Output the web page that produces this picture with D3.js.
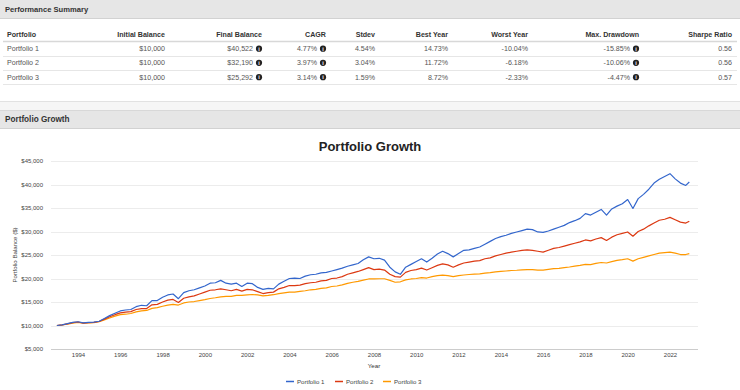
<!DOCTYPE html>
<html><head><meta charset="utf-8">
<script src="https://cdn.jsdelivr.net/npm/d3@7"></script>
<style>
body{margin:0;background:#fff;}
svg{display:block;font-family:"Liberation Sans",Arial,Helvetica,sans-serif;}
</style>
</head><body>
<svg id="c" width="740" height="390"></svg>
<script>
// ---------- DATA ----------
const portfolios = ["Portfolio 1", "Portfolio 2", "Portfolio 3"];
const tableHeaders = ["Portfolio", "Initial Balance", "Final Balance", "CAGR", "Stdev", "Best Year", "Worst Year", "Max. Drawdown", "Sharpe Ratio"];
const initialBalance = [10000, 10000, 10000];
const finalBalance = [40522, 32190, 25292];
const cagr = [4.77, 3.97, 3.14];
const stdev = [4.54, 3.04, 1.59];
const bestYear = [14.73, 11.72, 8.72];
const worstYear = [-10.04, -6.18, -2.33];
const maxDrawdown = [-15.85, -10.06, -4.47];
const sharpe = [0.56, 0.56, 0.57];

const yTicks = [5000, 10000, 15000, 20000, 25000, 30000, 35000, 40000, 45000];
const xTickYears = [1994, 1996, 1998, 2000, 2002, 2004, 2006, 2008, 2010, 2012, 2014, 2016, 2018, 2020, 2022];

// quarterly balances, Jan 1993 ... Oct 2022, then Dec 2022
const p1 = [
 10000,10150,10400,10650, 10800,10550,10650,10700, 10900,11500,12100,12600, 13100,13300,13400,14000,
 14300,14200,15300,15300, 16000,16500,16700,15700, 17000,17400,17600,18000, 18400,19000,19100,19600,
 19000,18800,19000,18300, 19000,18900,18100,17700, 17900,17800,18800,19400, 20000,20100,20000,20500,
 20800,20900,21200,21300, 21600,21900,22200,22600, 22900,23200,24000,24600, 24200,24300,23900,22400,
 21400,20900,22400,23000, 23600,24200,23500,24300, 25200,25800,25300,24600, 25300,26000,26100,26400,
 26700,27300,27900,28500, 28900,29200,29600,29900, 30200,30500,30400,29900, 29800,30100,30500,30900,
 31300,31900,32300,32800, 33800,33500,34100,34700, 33500,34800,35400,35900, 36800,34900,37000,37900,
 39000,40300,41100,41700, 42300,41200,40300,39800, 40522];
const p2 = [
 10000,10150,10350,10600, 10750,10500,10600,10650, 10850,11350,11850,12300, 12700,12850,12950,13400,
 13600,13600,14400,14500, 15000,15400,15550,14900, 15800,16100,16300,16700, 17100,17500,17600,17800,
 17600,17400,17700,17300, 17700,17600,17200,16800, 17000,17100,17800,18100, 18500,18500,18600,18900,
 19100,19200,19500,19600, 20000,20100,20400,20900, 21200,21500,21900,22300, 21900,22000,21800,20900,
 20400,20300,21300,21700, 21900,22200,21800,22300, 22800,23100,22900,22400, 22900,23300,23500,23700,
 23800,24200,24400,24800, 25100,25400,25600,25800, 26000,26100,26000,25800, 25600,26000,26400,26600,
 26900,27200,27500,27800, 28200,28000,28400,28700, 28100,28800,29300,29600, 29900,29000,30000,30500,
 31200,31800,32400,32600, 33000,32500,32000,31800, 32190];
const p3 = [
 10000,10100,10300,10500, 10650,10500,10550,10600, 10800,11200,11600,12000, 12300,12400,12550,12900,
 13100,13200,13650,13800, 14100,14350,14500,14350, 14800,15000,15100,15300, 15500,15750,15900,16100,
 16200,16200,16400,16400, 16500,16600,16500,16300, 16400,16550,16800,16950, 17100,17100,17250,17400,
 17600,17700,17900,18000, 18300,18400,18650,18950, 19200,19400,19650,19900, 19900,19950,19950,19600,
 19200,19300,19700,19900, 20000,20200,20100,20400, 20600,20700,20600,20400, 20600,20750,20850,20950,
 21000,21150,21250,21400, 21500,21600,21700,21750, 21850,21900,21900,21800, 21800,21950,22100,22150,
 22300,22450,22650,22800, 23000,22950,23200,23400, 23300,23600,23850,24000, 24200,23700,24200,24500,
 24800,25100,25400,25500, 25600,25400,25100,25100, 25292];
const seriesValues = [p1, p2, p3];
const seriesColors = ["#3366cc", "#dc3912", "#ff9900"];
const dates = d3.range(120).map(i => new Date(1993, i * 3, 1)).concat([new Date(2022, 11, 1)]);

// ---------- DRAW ----------
const svg = d3.select("#c");
const F = '"Liberation Sans",Arial,sans-serif';

// Panel 1 header
svg.append("rect").attr("x", 0).attr("y", 0).attr("width", 740).attr("height", 18).attr("fill", "#e6e6e6");
svg.append("line").attr("x1", 0).attr("x2", 740).attr("y1", 18.5).attr("y2", 18.5).attr("stroke", "#d2d2d2");
svg.append("text").attr("x", 5).attr("y", 12).attr("font-size", 7.6).attr("font-weight", "bold")
  .attr("fill", "#333").text("Performance Summary");

// Table
const colRight = [null, 165, 262, 326, 375, 448, 528, 639, 732];
const iconCols = new Set([2, 3, 7]);
const headerY = 34, rowY = [48.7, 62.8, 77.2];
const pct = v => v.toFixed(2) + "%";
const money = d3.format("$,");
const rows = portfolios.map((p, i) => [p, money(initialBalance[i]), money(finalBalance[i]), pct(cagr[i]), pct(stdev[i]),
  pct(bestYear[i]), pct(worstYear[i]), pct(maxDrawdown[i]), sharpe[i].toFixed(2)]);

const tbl = svg.append("g").attr("font-size", 7.1);
tableHeaders.forEach((h, j) => {
  tbl.append("text").attr("x", j === 0 ? 7 : colRight[j]).attr("y", headerY + 2.5)
    .attr("text-anchor", j === 0 ? "start" : "end").attr("font-weight", "bold").attr("fill", "#333").text(h);
});
tbl.append("line").attr("x1", 3).attr("x2", 737).attr("y1", 41.5).attr("y2", 41.5).attr("stroke", "#d8d8d8").attr("stroke-width", 1.6);
[56, 70, 84].forEach(y => tbl.append("line").attr("x1", 3).attr("x2", 737).attr("y1", y + 0.5).attr("y2", y + 0.5).attr("stroke", "#e6e6e6"));
rows.forEach((r, i) => {
  r.forEach((v, j) => {
    const hasIcon = iconCols.has(j);
    const xr = j === 0 ? 7 : (hasIcon ? colRight[j] - 9 : colRight[j]);
    tbl.append("text").attr("x", xr).attr("y", rowY[i] + 2.5)
      .attr("text-anchor", j === 0 ? "start" : "end").attr("fill", "#555").text(v);
    if (hasIcon) {
      const cx = colRight[j] - 3;
      tbl.append("circle").attr("cx", cx).attr("cy", rowY[i]).attr("r", 3.1).attr("fill", "#222");
      tbl.append("text").attr("x", cx).attr("y", rowY[i] + 2).attr("text-anchor", "middle")
        .attr("font-size", 5.5).attr("font-weight", "bold").attr("fill", "#fff").text("i");
    }
  });
});

// gap between panels
svg.append("line").attr("x1", 0).attr("x2", 740).attr("y1", 101.5).attr("y2", 101.5).attr("stroke", "#e2e2e2");
svg.append("rect").attr("x", 0).attr("y", 102).attr("width", 740).attr("height", 8).attr("fill", "#f6f6f6");

// Panel 2 header
svg.append("rect").attr("x", 0).attr("y", 110).attr("width", 740).attr("height", 18).attr("fill", "#e6e6e6");
svg.append("line").attr("x1", 0).attr("x2", 740).attr("y1", 110.5).attr("y2", 110.5).attr("stroke", "#d8d8d8");
svg.append("line").attr("x1", 0).attr("x2", 740).attr("y1", 128.5).attr("y2", 128.5).attr("stroke", "#d2d2d2");
svg.append("text").attr("x", 5).attr("y", 122).attr("font-size", 8.2).attr("font-weight", "bold")
  .attr("fill", "#333").text("Portfolio Growth");

// Chart
const plotL = 51, plotR = 698;
const x = d3.scaleTime().domain([new Date(1993, 0, 1), new Date(2023, 0, 1)]).range([56.9, 691.1]);
const y = d3.scaleLinear().domain([5000, 45000]).range([349, 161]);

svg.append("text").attr("x", 370).attr("y", 151).attr("text-anchor", "middle").attr("font-size", 13)
  .attr("font-weight", "bold").attr("fill", "#222").text("Portfolio Growth");

// gridlines
const grid = svg.append("g");
yTicks.forEach(t => {
  grid.append("line").attr("x1", plotL).attr("x2", plotR).attr("y1", Math.round(y(t)) + 0.5).attr("y2", Math.round(y(t)) + 0.5)
    .attr("stroke", t === 5000 ? "#cccccc" : "#ececec");
});

// y axis
const yAxis = d3.axisLeft(y).tickValues(yTicks).tickSize(0).tickPadding(0).tickFormat(d3.format("$,"));
const gy = svg.append("g").attr("transform", `translate(43,0)`).call(yAxis);
gy.select(".domain").remove();
gy.selectAll("text").attr("font-size", 6).attr("fill", "#444").attr("font-family", F);

// x axis
const xAxis = d3.axisBottom(x).tickValues(xTickYears.map(yr => new Date(yr, 0, 1))).tickSize(0).tickPadding(0)
  .tickFormat(d3.timeFormat("%Y"));
const gx = svg.append("g").attr("transform", `translate(0,353)`).call(xAxis);
gx.select(".domain").remove();
gx.selectAll("text").attr("font-size", 6).attr("fill", "#444").attr("font-family", F);

// axis titles
svg.append("text").attr("x", 374).attr("y", 368).attr("text-anchor", "middle").attr("font-size", 6.2)
  .attr("fill", "#333").text("Year");
svg.append("text").attr("transform", "translate(17,255) rotate(-90)").attr("text-anchor", "middle")
  .attr("font-size", 6.1).attr("fill", "#444").text("Portfolio Balance ($)");

// lines
const line = d3.line().x((d, i) => x(dates[i])).y(d => y(d));
[2, 1, 0].forEach(k => {
  svg.append("path").datum(seriesValues[k]).attr("d", line).attr("fill", "none")
    .attr("stroke", seriesColors[k]).attr("stroke-width", 1.2).attr("stroke-linejoin", "round");
});

// legend
const legendX = [286, 335, 383];
const lg = svg.append("g");
portfolios.forEach((p, k) => {
  lg.append("line").attr("x1", legendX[k]).attr("x2", legendX[k] + 8).attr("y1", 381.5).attr("y2", 381.5)
    .attr("stroke", seriesColors[k]).attr("stroke-width", 1.5);
  lg.append("text").attr("x", legendX[k] + 11).attr("y", 383.6).attr("font-size", 6.1).attr("fill", "#444").text(p);
});
</script>
</body></html>
